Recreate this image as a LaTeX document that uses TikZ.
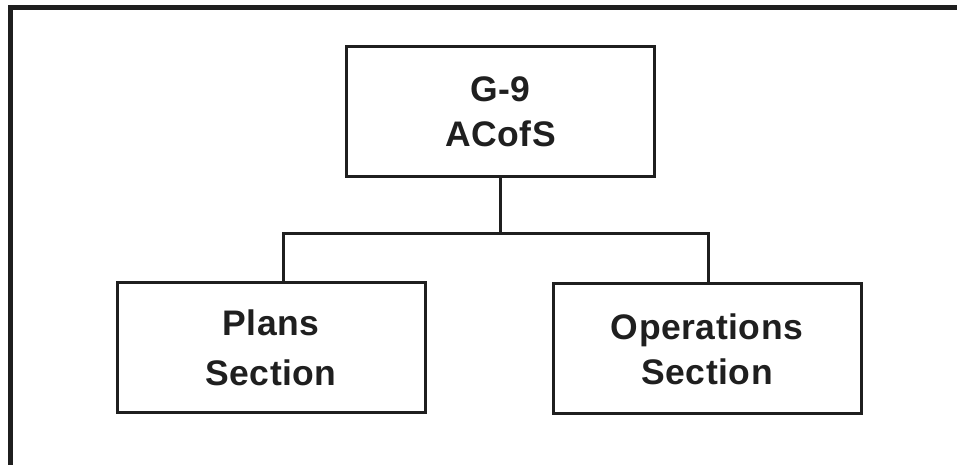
\documentclass[tikz,border=0pt]{standalone}
\usepackage{fontspec}
\setmainfont{Liberation Sans}
\newfontfamily\boxfont[LetterSpace=1.5]{Liberation Sans}
\begin{document}
\begin{tikzpicture}[x=1pt,y=1pt,
  orgbox/.style={draw=black!88, line width=3pt, rectangle, inner sep=0pt,
    minimum width=308pt, minimum height=130pt, align=center,
    font=\boxfont\fontsize{35.5}{45}\selectfont\bfseries, text=black!88},
  link/.style={draw=black!88, line width=3pt}]
  \useasboundingbox (0,0) rectangle (957,465);
  % outer frame (left and top edges)
  \draw[line width=5pt, black!88] (10,0) -- (10,457) -- (957,457);
  % boxes
  \node[orgbox] (top) at (500.5,353) {G-9\\ACofS};
  \node[orgbox, font=\boxfont\fontsize{35.5}{50}\selectfont\bfseries] (plans) at (271,117) {Plans\\Section};
  \node[orgbox] (ops) at (707,116) {Operations\\Section};
  % connectors
  \coordinate (bus) at (500,231);
  \coordinate (pl) at ([xshift=12pt]plans.north);
  \coordinate (op) at ([xshift=1pt]ops.north);
  \draw[link] (top.south) -- (top.south |- bus);
  \draw[link] (pl) |- (op |- bus) -- (op);
\end{tikzpicture}
\end{document}
